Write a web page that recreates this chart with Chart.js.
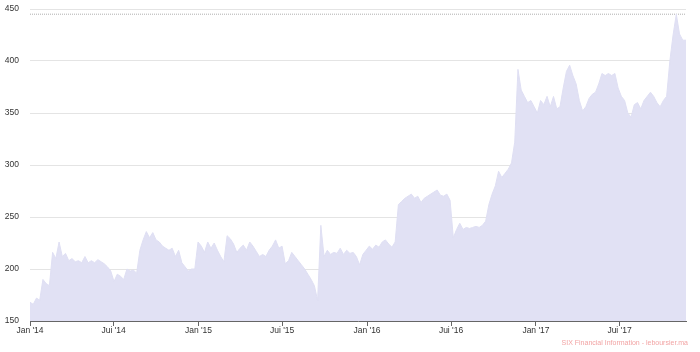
<!DOCTYPE html>
<html>
<head>
<meta charset="utf-8">
<script src="https://cdn.jsdelivr.net/npm/chart.js@4/dist/chart.umd.min.js"></script>
<style>
    html, body { margin: 0; padding: 0; background: #fff; }
    #wrap { position: relative; width: 700px; height: 352px; }
    #credit {
        position: absolute; right: 12px; bottom: 6px;
        font: 7px "Liberation Sans", Arial, sans-serif; line-height: 1;
        color: #f2a4a4;
    }
</style>
</head>
<body>
<div id="wrap">
    <canvas id="priceChart" width="700" height="352"></canvas>
    <div id="credit">SIX Financial Information - leboursier.ma</div>
</div>
<script>
// weekly closes, week 0 = first week of Jan 2014
const weeklyPrices = [
    168, 166, 172, 170, 190, 186, 184, 216, 210, 226,
    212, 215, 208, 210, 207, 208, 206, 212, 206, 208,
    206, 209, 207, 205, 202, 198, 188, 195, 193, 190,
    200, 198, 199, 196, 218, 228, 236, 230, 235, 228,
    226, 222, 220, 218, 220, 212, 218, 206, 202, 198,
    200, 200, 226, 222, 216, 226, 220, 225, 218, 212,
    207, 232, 229, 224, 216, 220, 223, 218, 226, 222,
    217, 212, 214, 212, 218, 222, 228, 220, 222, 205,
    208, 216, 212, 208, 204, 200, 195, 190, 184, 170,
    242, 212, 218, 214, 216, 215, 220, 214, 218, 215,
    216, 212, 204, 214, 218, 222, 219, 223, 221, 226,
    228, 224, 221, 226, 262, 265, 268, 270, 272, 268,
    270, 264, 268, 270, 272, 274, 276, 271, 270, 272,
    266, 230, 238, 244, 238, 240, 239, 240, 241, 240,
    242, 246, 262, 272, 280, 294, 288, 292, 296, 302,
    322, 392, 372, 366, 360, 362, 356, 350, 362, 358,
    366, 356, 366, 354, 356, 374, 390, 396, 386, 378,
    362, 352, 356, 364, 368, 370, 378, 388, 386, 388,
    386, 388, 374, 366, 362, 350, 346, 358, 360, 354,
    362, 366, 370, 366, 360, 356, 362, 366, 400, 425,
    445, 426, 420, 420
];

// month starts expressed in weeks
const tickWeeks = [0, 25.86, 52.14, 78, 104.29, 130.29, 156.57, 182.43];
const tickLabels = ["Jan '14", "Jui '14", "Jan '15", "Jui '15", "Jan '16", "Jui '16", "Jan '17", "Jui '17"];
const yTicks = [150, 200, 250, 300, 350, 400, 450];

const lastWeek = weeklyPrices.length - 1;
const maxPrice = Math.max(...weeklyPrices);
const font = { family: "'Liberation Sans', Arial, sans-serif", size: 8.5 };

new Chart(document.getElementById("priceChart"), {
    type: "line",

    data: {
        datasets: [
            {
                data: weeklyPrices.map((v, i) => ({ x: i, y: v })),
                borderColor: "#dfdff3",
                backgroundColor: "#e1e1f4",
                borderWidth: 1,
                pointRadius: 0,
                tension: 0,
                fill: "start",
            },
            {
                data: [{ x: 0, y: maxPrice }, { x: lastWeek, y: maxPrice }],
                borderColor: "#b0b0b0",
                borderWidth: 1,
                borderDash: [1, 1],
                pointRadius: 0,
                fill: false,
            },
        ],
    },

    options: {
        responsive: false,
        animation: false,
        layout: { padding: { top: 9, right: 14, left: 0, bottom: 0 } },
        plugins: { legend: { display: false }, tooltip: { enabled: false } },

        scales: {
            x: {
                type: "linear",
                min: 0,
                max: lastWeek,
                afterBuildTicks: (scale) => {
                    scale.ticks = tickWeeks.map((v) => ({ value: v }));
                },
                afterFit: (scale) => { scale.height = 31; },
                ticks: {
                    autoSkip: false,
                    maxRotation: 0,
                    padding: 0,
                    color: "#333",
                    font,
                    callback: (value, index) => tickLabels[index],
                },
                grid: { display: true, drawOnChartArea: false, drawTicks: true, tickLength: 5, color: "#666" },
                border: { display: true, color: "#666", dash: [1, 1], width: 1 },
            },

            y: {
                min: 150,
                max: 450,
                afterBuildTicks: (scale) => {
                    scale.ticks = yTicks.map((v) => ({ value: v }));
                },
                afterFit: (scale) => {
                    scale.width = 30;
                    scale.paddingTop = 0;
                    scale.paddingBottom = 0;
                },
                ticks: { padding: 11, color: "#333", font },
                grid: { color: "#e4e4e4", drawTicks: false },
                border: { display: false },
            },
        },
    },
});
</script>
</body>
</html>
